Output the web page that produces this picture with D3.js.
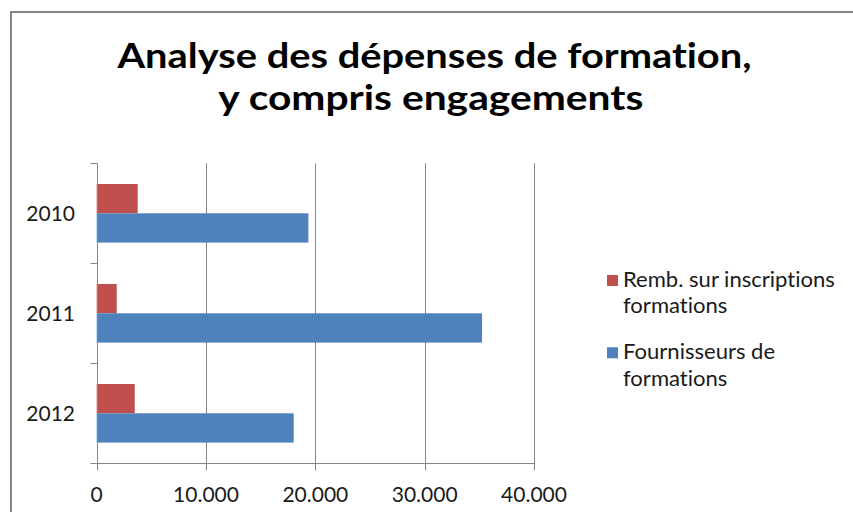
<!DOCTYPE html>
<html>
<head>
<meta charset="utf-8">
<script src="https://cdn.jsdelivr.net/npm/d3@7"></script>
<style>
  html, body { margin: 0; padding: 0; background: #fff; }
  svg { display: block; font-family: Lato, "Open Sans", sans-serif; font-variant-ligatures: none; font-feature-settings: "liga" 0, "clig" 0; }
</style>
</head>
<body>
<svg id="chart" width="853" height="512"></svg>
<script>
// ---- data ----
const years = ["2010", "2011", "2012"];
const seriesNames = ["Remb. sur inscriptions formations", "Fournisseurs de formations"];
const rembValues = [3750, 1830, 3480];
const fournisseursValues = [19360, 35250, 18020];
const xTickValues = [0, 10000, 20000, 30000, 40000];
const xTickLabels = ["0", "10.000", "20.000", "30.000", "40.000"];
const titleLines = ["Analyse des dépenses de formation,", "y compris engagements"];
const legendLines = [["Remb. sur inscriptions", "formations"], ["Fournisseurs de", "formations"]];
const colors = ["#C0504D", "#4F81BD"];

(function () {
const rows = years.map((yr, i) => ({ year: yr, values: [rembValues[i], fournisseursValues[i]] }));

const svg = d3.select("#chart");
const axisColor = "#868686";

// outer chart border
svg.append("rect")
  .attr("x", 11).attr("y", 12).attr("width", 900).attr("height", 600)
  .attr("fill", "#fff").attr("stroke", "#868686").attr("stroke-width", 2);

// title
const titleBaselines = [68, 110];
const titleCenters = [434.5, 430.8];
const titleWidths = [634, 425];
titleLines.forEach((t, i) => {
  svg.append("text")
    .attr("x", titleCenters[i]).attr("y", titleBaselines[i])
    .attr("text-anchor", "middle")
    .attr("font-size", 35).attr("font-weight", "bold").attr("fill", "#000")
    .attr("textLength", titleWidths[i]).attr("lengthAdjust", "spacingAndGlyphs")
    .text(t);
});

// scales
const pLeft = 96.7, pRight = 534, pTop = 163.3, pBottom = 463.3;
const x = d3.scaleLinear().domain([0, 40000]).range([pLeft, pRight]);
const y = d3.scaleBand().domain(years).range([pTop, pBottom]).paddingInner(0.414).paddingOuter(0.207);
const ySub = d3.scaleBand().domain([0, 1]).range([0, y.bandwidth()]);

// gridlines
svg.append("g").selectAll("line")
  .data(xTickValues.filter(v => v > 0))
  .join("line")
  .attr("x1", d => Math.round(x(d)) + 0.5).attr("x2", d => Math.round(x(d)) + 0.5)
  .attr("y1", pTop).attr("y2", pBottom + 7)
  .attr("stroke", axisColor).attr("stroke-width", 1);

// bars
const g = svg.append("g");
rows.forEach(r => {
  r.values.forEach((v, k) => {
    g.append("rect")
      .attr("x", x(0))
      .attr("y", y(r.year) + ySub(k))
      .attr("width", x(v) - x(0))
      .attr("height", ySub.bandwidth())
      .attr("fill", colors[k]);
  });
});

// axes lines
const ax = svg.append("g").attr("stroke", axisColor).attr("stroke-width", 1);
const lx = Math.round(pLeft) + 0.5;
ax.append("line").attr("x1", lx).attr("x2", lx).attr("y1", pTop).attr("y2", pBottom + 7);
ax.append("line").attr("x1", lx - 7).attr("x2", pRight).attr("y1", Math.round(pBottom) + 0.5).attr("y2", Math.round(pBottom) + 0.5);
// y ticks at band boundaries
const boundaries = d3.range(years.length + 1).map(i => pTop + i * y.step());
ax.selectAll(null).data(boundaries).join("line")
  .attr("x1", lx - 7).attr("x2", lx)
  .attr("y1", d => Math.round(d) + 0.5).attr("y2", d => Math.round(d) + 0.5);
// x ticks
ax.selectAll(null).data(xTickValues).join("line")
  .attr("x1", d => Math.round(x(d)) + 0.5).attr("x2", d => Math.round(x(d)) + 0.5)
  .attr("y1", pBottom).attr("y2", pBottom + 7);

// x tick labels
svg.append("g").selectAll("text").data(xTickValues).join("text")
  .attr("x", d => x(d)).attr("y", 502)
  .attr("text-anchor", "middle").attr("font-size", 21).attr("fill", "#1a1a1a")
  .text((d, i) => xTickLabels[i]);

// y labels
svg.append("g").selectAll("text").data(years).join("text")
  .attr("x", 75).attr("y", d => y(d) + y.bandwidth() / 2 + 8)
  .attr("text-anchor", "end").attr("font-size", 21).attr("fill", "#1a1a1a")
  .text(d => d);

// legend
const legendSquares = [275, 347.3];
const legendBaselines = [[286.7, 313.3], [359, 385.7]];
const lg = svg.append("g");
legendLines.forEach((lines, k) => {
  lg.append("rect").attr("x", 607).attr("y", legendSquares[k]).attr("width", 11).attr("height", 11).attr("fill", colors[k]);
  lines.forEach((t, j) => {
    lg.append("text").attr("class", "lt")
      .attr("x", 623).attr("y", legendBaselines[k][j])
      .attr("font-size", 21).attr("fill", "#1a1a1a")
      .text(t);
  });
});
// fit legend font to reference width of first line
const firstLen = lg.select("text.lt").node().getComputedTextLength();
const fs = 21 * 212 / firstLen;
lg.selectAll("text.lt").attr("font-size", fs);
})();
</script>
</body>
</html>
